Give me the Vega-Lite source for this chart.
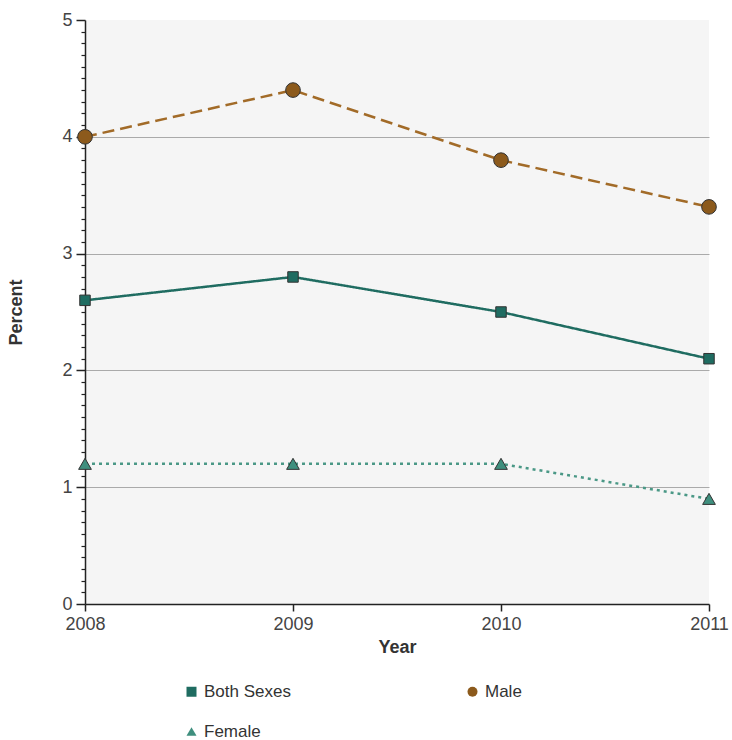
{
  "$schema": "https://vega.github.io/schema/vega-lite/v6.json",
  "width": 624,
  "height": 584,
  "autosize": "none",
  "padding": {"left": 85, "top": 20, "right": 23, "bottom": 136},
  "background": "white",
  "config": {
    "font": "Liberation Sans",
    "view": {"fill": "#f5f5f5", "stroke": null},
    "axis": {"labelFont": "Liberation Sans", "titleFont": "Liberation Sans"},
    "legend": {"labelFont": "Liberation Sans"}
  },
  "data": {"values": [
    {"year": 2008, "series": "Both Sexes", "pct": 2.6},
    {"year": 2009, "series": "Both Sexes", "pct": 2.8},
    {"year": 2010, "series": "Both Sexes", "pct": 2.5},
    {"year": 2011, "series": "Both Sexes", "pct": 2.1},
    {"year": 2008, "series": "Male", "pct": 4.0},
    {"year": 2009, "series": "Male", "pct": 4.4},
    {"year": 2010, "series": "Male", "pct": 3.8},
    {"year": 2011, "series": "Male", "pct": 3.4},
    {"year": 2008, "series": "Female", "pct": 1.2},
    {"year": 2009, "series": "Female", "pct": 1.2},
    {"year": 2010, "series": "Female", "pct": 1.2},
    {"year": 2011, "series": "Female", "pct": 0.9}
  ]},
  "encoding": {
    "x": {
      "field": "year", "type": "quantitative",
      "scale": {"domain": [2008, 2011], "nice": false, "zero": false},
      "axis": {
        "values": [2008, 2009, 2010, 2011], "format": "d", "grid": false,
        "title": "Year", "titleFontSize": 18, "titleFontWeight": "bold", "titleColor": "#333",
        "titlePadding": 5,
        "labelFontSize": 18, "labelColor": "#444", "labelPadding": 4,
        "domainColor": "#222", "domainWidth": 1.5, "tickColor": "#222", "tickSize": 7, "tickWidth": 1.5,
        "labelFlush": false
      }
    }
  },
  "layer": [
    {
      "mark": {"type": "line", "strokeWidth": 2.5},
      "encoding": {
        "y": {
          "field": "pct", "type": "quantitative",
          "scale": {"domain": [0, 5], "nice": false},
          "axis": {
            "values": [0, 1, 2, 3, 4, 5], "title": "Percent", "titleFontSize": 18, "titleFontWeight": "bold",
            "titleColor": "#333", "titlePadding": 36,
            "labelFontSize": 18, "labelColor": "#444", "labelPadding": 4,
            "grid": true, "gridWidth": 1,
            "gridColor": {"condition": {"test": "datum.value == 0 || datum.value == 5", "value": "transparent"}, "value": "#aaaaaa"},
            "domainColor": "#222", "domainWidth": 1.5, "tickColor": "#222", "tickSize": 9, "tickWidth": 1.5
          }
        },
        "stroke": {
          "field": "series", "type": "nominal", "legend": null,
          "scale": {"range": ["#1f6c61", "#4a9886", "#a26b28"]}
        },
        "strokeDash": {
          "field": "series", "type": "nominal", "legend": null,
          "scale": {"range": [[1, 0], [3, 4], [12, 6]]}
        }
      }
    },
    {
      "mark": {"type": "point", "filled": true, "opacity": 1, "strokeWidth": 1, "stroke": "#333"},
      "encoding": {
        "y": {
          "field": "pct", "type": "quantitative",
          "scale": {"domain": [0, 5], "nice": false},
          "axis": {
            "values": [0.1,0.2,0.3,0.4,0.5,0.6,0.7,0.8,0.9,1.1,1.2,1.3,1.4,1.5,1.6,1.7,1.8,1.9,2.1,2.2,2.3,2.4,2.5,2.6,2.7,2.8,2.9,3.1,3.2,3.3,3.4,3.5,3.6,3.7,3.8,3.9,4.1,4.2,4.3,4.4,4.5,4.6,4.7,4.8,4.9],
            "orient": "left", "labels": false, "title": null, "grid": false, "domain": false,
            "tickColor": "#222", "tickSize": 4, "tickWidth": 1.2
          }
        },
        "size": {
          "field": "series", "type": "nominal", "legend": null,
          "scale": {"range": [110, 215, 140]}
        },
        "color": {
          "field": "series", "type": "nominal",
          "scale": {"domain": ["Both Sexes", "Male", "Female"], "range": ["#1f6c61", "#8c5a1c", "#3f8f7e"]},
          "legend": {
            "title": null, "orient": "none", "legendX": 98, "legendY": 663, "direction": "horizontal", "columns": 2,
            "columnPadding": 173, "rowPadding": 22, "labelFontSize": 17, "labelColor": "#333",
            "symbolSize": 100, "symbolStrokeWidth": 0, "labelOffset": 4
          }
        },
        "shape": {
          "field": "series", "type": "nominal",
          "scale": {"domain": ["Both Sexes", "Male", "Female"], "range": ["square", "circle", "triangle-up"]},
          "legend": {
            "title": null, "orient": "none", "legendX": 98, "legendY": 663, "direction": "horizontal", "columns": 2,
            "columnPadding": 173, "rowPadding": 22, "labelFontSize": 17, "labelColor": "#333",
            "symbolSize": 100, "symbolStrokeWidth": 0, "labelOffset": 4
          }
        }
      }
    }
  ],
  "resolve": {"axis": {"y": "independent"}}
}
